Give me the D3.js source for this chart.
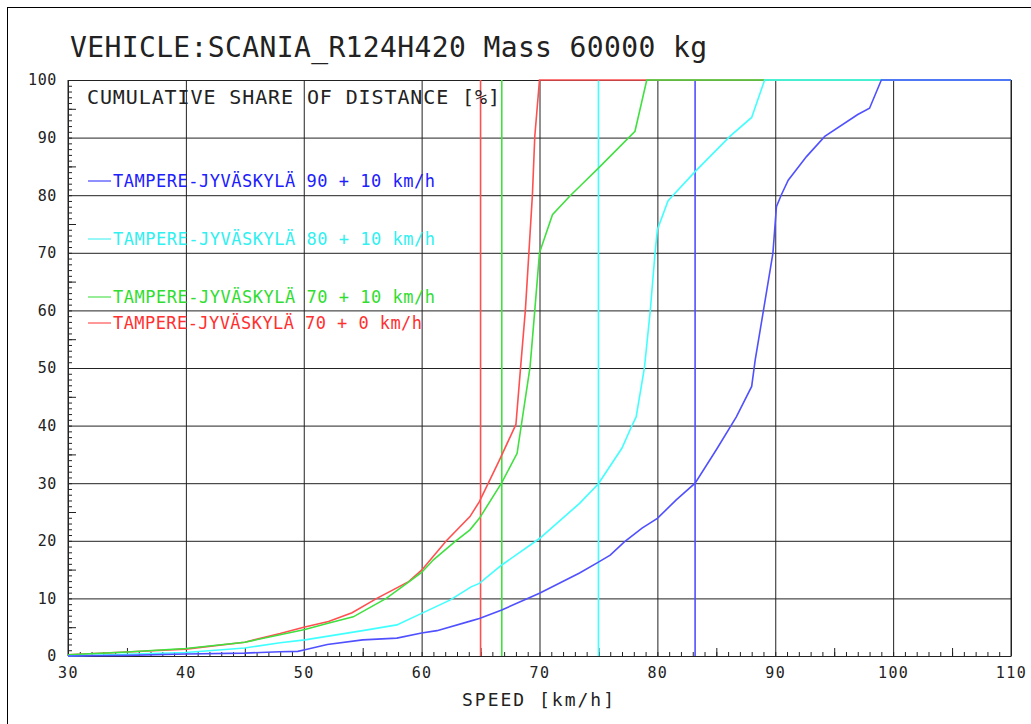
<!DOCTYPE html>
<html>
<head>
<meta charset="utf-8">
<script src="https://cdn.jsdelivr.net/npm/d3@7"></script>
<style>
  body { margin: 0; background: #fff; }
  svg text { font-family: "DejaVu Sans Mono", monospace; }
</style>
</head>
<body>
<div class="chart"></div>
<script>
// Cumulative share of distance vs speed, Tampere-Jyväskylä runs

var titleText = "VEHICLE:SCANIA_R124H420 Mass 60000 kg";
var yTitle = "CUMULATIVE SHARE OF DISTANCE [%]";
var xTitle = "SPEED [km/h]";

var xTicks = [30, 40, 50, 60, 70, 80, 90, 100, 110];
var yTicks = [0, 10, 20, 30, 40, 50, 60, 70, 80, 90, 100];

var seriesNames = [
  "TAMPERE-JYVÄSKYLÄ 90 + 10 km/h",
  "TAMPERE-JYVÄSKYLÄ 80 + 10 km/h",
  "TAMPERE-JYVÄSKYLÄ 70 + 10 km/h",
  "TAMPERE-JYVÄSKYLÄ 70 + 0 km/h"
];

// mean speeds (vertical markers)
var meanSpeeds = [83.2, 75, 66.8, 65];

var speed90 = [30, 35, 40, 45, 48, 49.5, 50.1, 52, 55, 57.9, 60, 61.3, 64.2, 64.9, 66.8, 70, 73.4, 75, 76, 77.2, 78.7, 80, 81.6, 83.2, 85, 86.7, 88, 88.3, 89, 89.8, 90.1, 90.5, 91.1, 92.65, 94.2, 97, 98, 99, 110];
var share90 = [0, 0.1, 0.35, 0.5, 0.75, 0.8, 1.1, 2, 2.8, 3.1, 4, 4.4, 6.1, 6.5, 8, 10.9, 14.4, 16.3, 17.5, 19.8, 22.2, 23.9, 27.1, 30, 35.8, 41.5, 46.8, 51.4, 60, 69.9, 78, 80, 82.6, 86.7, 90.2, 94, 95.1, 100, 100];

var speed80 = [30, 35, 40, 45, 48, 50.1, 55, 57.9, 60, 62.4, 64.2, 64.9, 66.8, 70, 73.4, 75, 77, 77.8, 78.2, 78.9, 79.4, 79.8, 80, 80.9, 81.2, 83.2, 86.15, 88, 89.1, 110];
var share80 = [0, 0.3, 0.6, 1.4, 2.3, 2.8, 4.4, 5.4, 7.4, 9.7, 12, 12.6, 15.8, 20.4, 26.5, 29.9, 36.1, 39.8, 41.5, 50, 60, 69.9, 74, 79, 79.7, 84.1, 90.2, 93.5, 100, 100];

var speed70 = [30, 35, 40, 45, 50.1, 51.9, 54.2, 57, 59.15, 60, 61, 62.8, 64.1, 64.9, 66.8, 68.1, 69.2, 69.6, 70, 71.1, 72.6, 73.6, 75, 78.1, 79.1, 110];
var share70 = [0.2, 0.7, 1.3, 2.4, 4.6, 5.6, 6.8, 10, 13.2, 14.5, 16.7, 19.8, 21.9, 23.9, 30.1, 35.2, 50.2, 60, 70, 76.6, 79.9, 81.9, 84.7, 91.1, 100, 100];

var speed70b = [30, 35, 40, 45, 48, 50, 52.1, 54.1, 56.2, 58.9, 60, 62.1, 64.1, 64.9, 66.6, 68, 68.4, 68.8, 69.1, 69.4, 69.6, 70, 110];
var share70b = [0.2, 0.7, 1.2, 2.4, 3.9, 5, 6, 7.5, 10, 12.9, 14.9, 20, 24.2, 26.8, 34, 40.2, 50.2, 60, 70, 80.1, 90.2, 100, 100];

var lineColors = ["#5050ff", "#40ffff", "#40e040", "#ff5050"];
var textColors = ["#2020ff", "#30f0f0", "#30dd30", "#ff3030"];

var svgWidth = 1031;
var svgHeight = 724;

var svg = d3.select(".chart")
  .append("svg")
  .attr("width", svgWidth)
  .attr("height", svgHeight);

// outer frame (left + top only, as in the scan)
svg.append("line").attr("x1", 7.5).attr("x2", 7.5).attr("y1", 7).attr("y2", svgHeight).attr("stroke", "#000");
svg.append("line").attr("x1", 7).attr("x2", svgWidth).attr("y1", 7.5).attr("y2", 7.5).attr("stroke", "#000");

var xScale = d3.scaleLinear().domain([30, 110]).range([68, 1011]);
var yScale = d3.scaleLinear().domain([0, 100]).range([656, 80]);

var plotH = 656 - 80;
var plotW = 1011 - 68;

// grid
svg.append("g")
  .attr("transform", "translate(0,656)")
  .call(d3.axisBottom(xScale).tickValues(xTicks).tickSize(-plotH).tickFormat(""))
  .call(g => g.select(".domain").remove())
  .selectAll("line").attr("stroke", "#222");

svg.append("g")
  .attr("transform", "translate(68,0)")
  .call(d3.axisLeft(yScale).tickValues(yTicks).tickSize(-plotW).tickFormat(""))
  .call(g => g.select(".domain").remove())
  .selectAll("line").attr("stroke", "#222");

// left axis line
svg.append("line").attr("x1", 68).attr("x2", 68).attr("y1", 80).attr("y2", 656).attr("stroke", "#222");

// minor ticks
var minorX = d3.range(30, 111, 1);
var midX = d3.range(35, 111, 10);
svg.append("g")
  .attr("transform", "translate(0,656)")
  .call(d3.axisTop(xScale).tickValues(minorX).tickSize(4).tickFormat(""))
  .call(g => g.select(".domain").remove())
  .selectAll("line").attr("stroke", "#222");
svg.append("g")
  .attr("transform", "translate(0,656)")
  .call(d3.axisTop(xScale).tickValues(midX).tickSize(8).tickFormat(""))
  .call(g => g.select(".domain").remove())
  .selectAll("line").attr("stroke", "#222");

var minorY = d3.range(0, 101, 1);
var midY = d3.range(5, 101, 10);
svg.append("g")
  .attr("transform", "translate(68,0)")
  .call(d3.axisRight(yScale).tickValues(minorY).tickSize(4).tickFormat(""))
  .call(g => g.select(".domain").remove())
  .selectAll("line").attr("stroke", "#222");
svg.append("g")
  .attr("transform", "translate(68,0)")
  .call(d3.axisRight(yScale).tickValues(midY).tickSize(8).tickFormat(""))
  .call(g => g.select(".domain").remove())
  .selectAll("line").attr("stroke", "#222");

// tick labels
var xLab = svg.append("g")
  .attr("transform", "translate(0,656)")
  .call(d3.axisBottom(xScale).tickValues(xTicks).tickSize(0).tickPadding(11));
xLab.select(".domain").attr("stroke", "#222");
xLab.selectAll("text")
  .attr("font-family", "DejaVu Sans Mono")
  .attr("font-size", 15)
  .attr("letter-spacing", 1.4)
  .attr("fill", "#222");

var yLab = svg.append("g")
  .attr("transform", "translate(68,0)")
  .call(d3.axisLeft(yScale).tickValues(yTicks).tickSize(0).tickPadding(11));
yLab.select(".domain").remove();
yLab.selectAll("text")
  .attr("font-family", "DejaVu Sans Mono")
  .attr("font-size", 15)
  .attr("letter-spacing", 0.6)
  .attr("fill", "#222");

// right border
svg.append("line").attr("x1", 1011).attr("x2", 1011).attr("y1", 80).attr("y2", 656).attr("stroke", "#222");

// mean speed markers
meanSpeeds.forEach(function (s, i) {
  svg.append("line")
    .attr("x1", xScale(s)).attr("x2", xScale(s))
    .attr("y1", yScale(0)).attr("y2", yScale(100))
    .attr("stroke", lineColors[i])
    .attr("stroke-width", 1.6);
});

// curves, drawn red first so later ones cover the 100% edge
var seriesData = [
  { s: speed90, p: share90 },
  { s: speed80, p: share80 },
  { s: speed70, p: share70 },
  { s: speed70b, p: share70b }
];

var line = d3.line()
  .x(d => xScale(d[0]))
  .y(d => yScale(d[1]));

[3, 2, 1, 0].forEach(function (i) {
  var pts = seriesData[i].s.map((v, k) => [v, seriesData[i].p[k]]);
  svg.append("path")
    .datum(pts)
    .attr("d", line)
    .attr("fill", "none")
    .attr("stroke", lineColors[i])
    .attr("stroke-width", 1.6);
});

// legend
var legendY = [181, 239, 297, 323];
var legendLen = [322, 322, 322, 309];
seriesNames.forEach(function (name, i) {
  svg.append("line")
    .attr("x1", 88).attr("x2", 111)
    .attr("y1", legendY[i]).attr("y2", legendY[i])
    .attr("stroke", textColors[i]);
  svg.append("text")
    .attr("x", 113)
    .attr("y", legendY[i] + 6)
    .attr("font-size", 17)
    .attr("textLength", legendLen[i])
    .attr("lengthAdjust", "spacing")
    .attr("fill", textColors[i])
    .text(name);
});

// titles
svg.append("text")
  .attr("x", 70).attr("y", 57)
  .attr("font-size", 28)
  .attr("textLength", 637)
  .attr("lengthAdjust", "spacing")
  .attr("fill", "#222")
  .text(titleText);

svg.append("text")
  .attr("x", 87).attr("y", 104)
  .attr("font-size", 20)
  .attr("textLength", 413)
  .attr("lengthAdjust", "spacing")
  .attr("fill", "#222")
  .text(yTitle);

svg.append("text")
  .attr("x", 462).attr("y", 706)
  .attr("font-size", 18)
  .attr("textLength", 152)
  .attr("lengthAdjust", "spacing")
  .attr("fill", "#222")
  .text(xTitle);
</script>
</body>
</html>
